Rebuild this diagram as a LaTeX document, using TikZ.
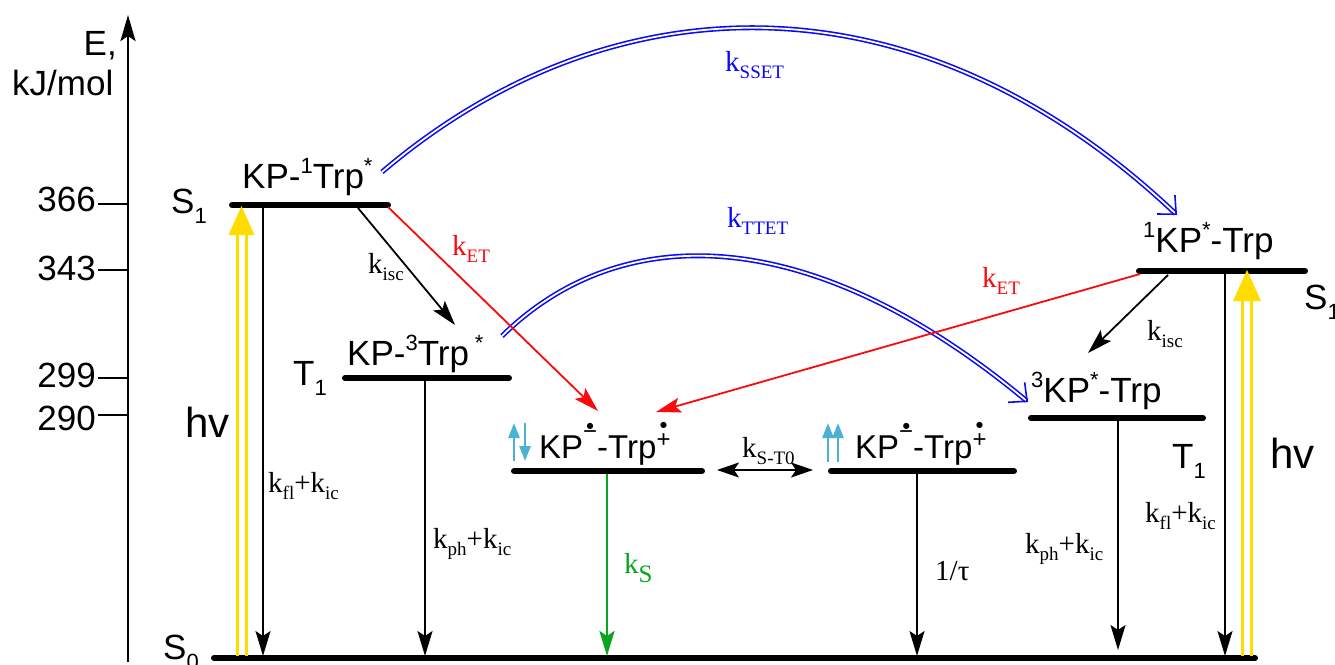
\documentclass[tikz,border=0pt]{standalone}
\usepackage{fontspec}
\setmainfont{Liberation Sans}
\newfontfamily\tnr{Liberation Serif}
\newfontfamily\dejavu{DejaVu Sans}
\usetikzlibrary{arrows.meta}
\definecolor{myyellow}{RGB}{255,221,0}
\definecolor{myblue}{RGB}{10,10,245}
\definecolor{myred}{RGB}{250,10,10}
\definecolor{mygreen}{RGB}{10,165,30}
\definecolor{spincol}{RGB}{75,178,212}
\newcommand{\su}[1]{\raisebox{15pt}{\fontsize{22}{22}\selectfont #1}}
\newcommand{\lsub}[1]{\raisebox{-10pt}{\fontsize{22}{22}\selectfont #1}}
\newcommand{\rsub}[1]{\raisebox{-7pt}{\fontsize{19}{19}\selectfont #1}}
\newsavebox{\radbox}
\newcommand{\radsym}[3]{%
  \sbox{\radbox}{\fontsize{24}{24}\selectfont #1}%
  \rlap{\makebox[\wd\radbox][c]{\raisebox{#3}{\dejavu\fontsize{8}{8}\selectfont ●}}}%
  \raisebox{#2}{\usebox{\radbox}}}
\begin{document}
\begin{tikzpicture}[x=1pt,y=-1pt,
  lab/.style={anchor=base west,inner sep=0pt,font=\fontsize{35}{35}\selectfont},
  big/.style={anchor=base west,inner sep=0pt,font=\fontsize{42}{42}\selectfont},
  rate/.style={anchor=base west,inner sep=0pt,font=\tnr\fontsize{29}{29}\selectfont},
  lvl/.style={line width=6pt,line cap=round},
  tickln/.style={line width=2pt},
  dec/.style={line width=1.8pt,-{Stealth[length=25pt,width=15pt,inset=5pt]}},
  yel/.style={myyellow,line width=3pt},
  bluecurve/.style={draw=myblue,line width=1.6pt,double=white,double distance=1.8pt,-{Straight Barb[length=14pt,width=26pt]}},
  spinarr/.style={spincol,line width=2.6pt,-{Triangle[length=15pt,width=11pt]}}]
\useasboundingbox (0,0) rectangle (1335,664);
\begin{scope}
\clip (0,0) rectangle (1335,664);
% axis
\coordinate (ax0) at (128,662);
\coordinate (ax1) at (128,15);
\draw[line width=2.5pt,-{Stealth[length=26pt,width=15pt,inset=5pt]}] (ax0) -- (ax1);
\node[lab,anchor=base east] (lE) at (117,55) {E,};
\node[lab] (lkj) at (12,95) {kJ/mol};
\foreach \v/\y/\b in {366/204/211,343/270/280,299/378/387,290/415/430}{
  \coordinate (tk\v) at (98,\y);
  \draw[tickln] (tk\v) -- (128,\y);
  \node[lab,anchor=base east] (n\v) at (96,\b) {\v};
}
% levels
\coordinate (S1La) at (232,205); \coordinate (S1Lb) at (388,205);
\coordinate (T1La) at (345,378); \coordinate (T1Lb) at (509,378);
\coordinate (RPLa) at (514,471); \coordinate (RPLb) at (702,471);
\coordinate (RPRa) at (831,471); \coordinate (RPRb) at (1014,471);
\coordinate (S1Ra) at (1139,271); \coordinate (S1Rb) at (1305,271);
\coordinate (T1Ra) at (1031,418); \coordinate (T1Rb) at (1203,418);
\coordinate (S0a) at (214,658); \coordinate (S0b) at (1255,658);
\foreach \a in {S1L,T1L,RPL,RPR,S1R,T1R,S0}{\draw[lvl] (\a a) -- (\a b);}
% level labels
\node[lab] (lS1L) at (171,213) {S\lsub{1}};
\node[lab] (lT1L) at (293,385) {T\lsub{1}};
\node[lab] (lS1R) at (1304,309) {S\lsub{1}};
\node[lab] (lT1R) at (1172,468) {T\lsub{1}};
\node[lab] (lS0) at (163,659) {S\lsub{0}};
\node[lab] (sKP1) at (242,188) {KP-\su{1}Trp\su{*}};
\node[lab] (sKP3) at (347,365) {KP-\su{3}Trp\,\su{*}};
\node[lab] (s1KP) at (1143,252) {\su{1}KP\su{*}-Trp};
\node[lab] (s3KP) at (1031,402) {\su{3}KP\su{*}-Trp};
\node[lab,font=\fontsize{33}{33}\selectfont] (rpL) at (539,458) {KP\radsym{−}{19pt}{30pt}-Trp\radsym{+}{11pt}{31pt}};
\node[lab,font=\fontsize{33}{33}\selectfont] (rpR) at (855,458) {KP\radsym{−}{19pt}{30pt}-Trp\radsym{+}{11pt}{31pt}};
% spin arrows
\coordinate (sp1a) at (514,461); \coordinate (sp1b) at (514,423);
\coordinate (sp2a) at (525,423); \coordinate (sp2b) at (525,461);
\coordinate (sp3a) at (828,462); \coordinate (sp3b) at (828,423);
\coordinate (sp4a) at (838,462); \coordinate (sp4b) at (838,423);
\draw[spinarr] (sp1a) -- (sp1b);
\draw[spinarr] (sp2a) -- (sp2b);
\draw[spinarr] (sp3a) -- (sp3b);
\draw[spinarr] (sp4a) -- (sp4b);
% hv arrows
\coordinate (hvL0) at (241.5,656); \coordinate (hvL1) at (241.5,206);
\draw[yel] ([xshift=-4.5pt]hvL0) -- ([xshift=-4.5pt,yshift=-26pt]hvL1);
\draw[yel] ([xshift=4.5pt]hvL0) -- ([xshift=4.5pt,yshift=-26pt]hvL1);
\fill[myyellow] (hvL1) -- ([xshift=13pt,yshift=-29pt]hvL1) -- ([xshift=-13pt,yshift=-29pt]hvL1) -- cycle;
\coordinate (hvR0) at (1247,656); \coordinate (hvR1) at (1247,270);
\draw[yel] ([xshift=-4.5pt]hvR0) -- ([xshift=-4.5pt,yshift=-28pt]hvR1);
\draw[yel] ([xshift=4.5pt]hvR0) -- ([xshift=4.5pt,yshift=-28pt]hvR1);
\fill[myyellow] (hvR1) -- ([xshift=14pt,yshift=-31pt]hvR1) -- ([xshift=-14pt,yshift=-31pt]hvR1) -- cycle;
\node[big] (hvLl) at (185,437) {hv};
\node[big] (hvRl) at (1270,468) {hv};
% blue curves
\coordinate (ss0) at (382,172); \coordinate (ss1) at (1177,215);
\draw[bluecurve] (ss0) .. controls (610,-22) and (916,-32) .. (ss1);
\node[rate,text=myblue] (kSSET) at (725,71) {k\rsub{SSET}};
\coordinate (tt0) at (502,336); \coordinate (tt1) at (1028,402);
\draw[bluecurve] (tt0) .. controls (620,220) and (809,220) .. (tt1);
\node[rate,text=myblue] (kTTET) at (727,227) {k\rsub{TTET}};
% decays
\coordinate (d1a) at (263,208); \coordinate (d1b) at (263,656);
\draw[dec] (d1a) -- (d1b);
\node[rate] (kfl1) at (268,492) {k\rsub{fl}+k\rsub{ic}};
\coordinate (d2a) at (425,381); \coordinate (d2b) at (425,656);
\draw[dec] (d2a) -- (d2b);
\node[rate] (kph1) at (433,548) {k\rsub{ph}+k\rsub{ic}};
\coordinate (d3a) at (607,474); \coordinate (d3b) at (607,656);
\draw[dec,mygreen,line width=2.8pt] (d3a) -- (d3b);
\node[rate,text=mygreen] (kS) at (624,573) {k\raisebox{-9pt}{\fontsize{25}{25}\selectfont S}};
\coordinate (d4a) at (917,474); \coordinate (d4b) at (917,656);
\draw[dec] (d4a) -- (d4b);
\node[rate] (tau) at (935,580) {1/τ};
\coordinate (d5a) at (1118,421); \coordinate (d5b) at (1118,650);
\draw[dec] (d5a) -- (d5b);
\node[rate] (kph2) at (1025,553) {k\rsub{ph}+k\rsub{ic}};
\coordinate (d6a) at (1225,274); \coordinate (d6b) at (1225,656);
\draw[dec] (d6a) -- (d6b);
\node[rate] (kfl2) at (1145,522) {k\rsub{fl}+k\rsub{ic}};
% isc
\coordinate (i1a) at (358,208); \coordinate (i1b) at (455,325);
\draw[dec] (i1a) -- (i1b);
\node[rate] (kisc1) at (368,273) {k\rsub{isc}};
\coordinate (i2a) at (1168,275); \coordinate (i2b) at (1088,353);
\draw[dec] (i2a) -- (i2b);
\node[rate] (kisc2) at (1147,340) {k\rsub{isc}};
% ET
\coordinate (e1a) at (388,207); \coordinate (e1b) at (598,411);
\draw[dec,myred] (e1a) -- (e1b);
\node[rate,text=myred] (kET1) at (452,255) {k\rsub{ET}};
\coordinate (e2a) at (1140,274); \coordinate (e2b) at (656,412);
\draw[dec,myred] (e2a) -- (e2b);
\node[rate,text=myred] (kET2) at (982,287) {k\rsub{ET}};
% S-T0
\coordinate (st0) at (717,470); \coordinate (st1) at (813,470);
\draw[line width=1.8pt,{Stealth[length=22pt,width=15pt,inset=5pt]}-{Stealth[length=22pt,width=15pt,inset=5pt]}] (st0) -- (st1);
\node[rate] (kST) at (742,457) {k\rsub{S-T0}};
\end{scope}
\end{tikzpicture}
\end{document}
